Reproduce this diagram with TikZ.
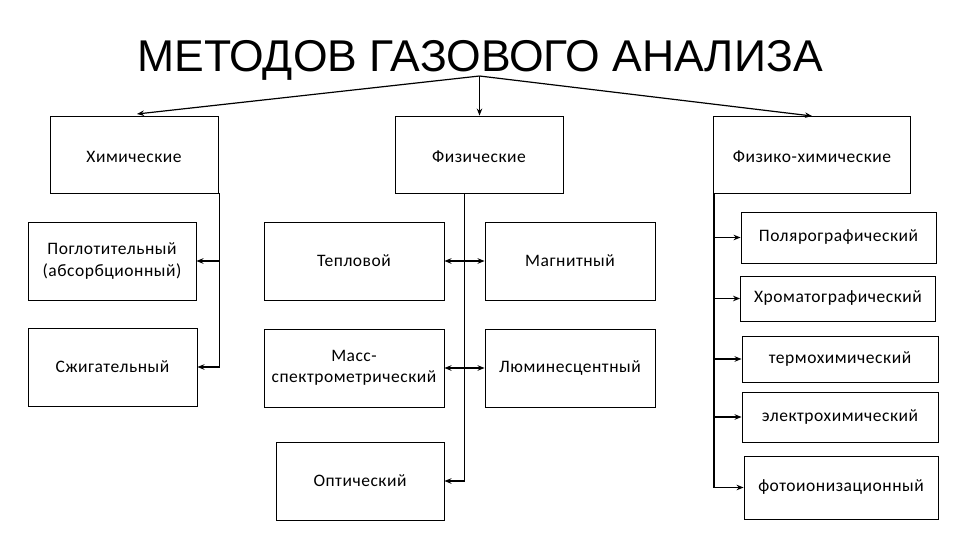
\documentclass[tikz,border=0pt]{standalone}
\usepackage{fontspec}
\setmainfont{Carlito}[LetterSpace=3]
\newfontfamily\titlefont{Liberation Sans}
\usetikzlibrary{arrows.meta}
\begin{document}
\begin{tikzpicture}[x=1pt,y=-1pt,
  box/.style={draw=black,line width=0.9pt,rectangle,inner sep=2pt,align=center,font=\fontsize{17.5}{21.5}\selectfont},
  lbl/.style={font=\fontsize{17.5}{21.5}\selectfont},
  conn/.style={line width=1.2pt},
  arr/.style={conn,-{Stealth[length=7pt,width=5.5pt]}},
  darr/.style={conn,{Stealth[length=7pt,width=5.5pt]}-{Stealth[length=7pt,width=5.5pt]}}]
\useasboundingbox (0,0) rectangle (960,540);
\fill[white] (0,0) rectangle (960,540);
% title
\node[font=\titlefont\fontsize{44.5}{50}\selectfont,inner sep=0pt] (title) at (480,60) {МЕТОДОВ ГАЗОВОГО АНАЛИЗА};
\coordinate (apex) at (479.5,76);
% level 1
\node[box,minimum width=168pt,minimum height=77pt] (chem) at (134,154.5) {};
\node[lbl] at (134,157) {Химические};
\node[box,minimum width=168pt,minimum height=77pt] (phys) at (479,154.5) {};
\node[lbl] at (479,157) {Физические};
\node[box,minimum width=197pt,minimum height=77pt] (pc) at (811.5,154.5) {};
\node[lbl] at (812,157) {Физико-химические};
% left column
\node[box,minimum width=168pt,minimum height=78pt] (absorb) at (112,261) {Поглотительный\\(абсорбционный)};
\node[box,minimum width=169pt,minimum height=78pt] (burn) at (112.5,367) {Сжигательный};
% middle
\node[box,minimum width=180pt,minimum height=78pt] (thermal) at (354,261) {Тепловой};
\node[box,minimum width=170pt,minimum height=78pt] (magnet) at (570,261) {Магнитный};
\node[box,minimum width=180pt,minimum height=78pt] (mass) at (354,368) {Масс-\\спектрометрический};
\node[box,minimum width=170pt,minimum height=78pt] (lumin) at (570,368) {Люминесцентный};
\node[box,minimum width=168pt,minimum height=78pt] (optic) at (360,481) {Оптический};
% right
\node[box,minimum width=195pt,minimum height=51pt] (polar) at (838.5,237.5) {Полярографический};
\node[box,minimum width=195pt,minimum height=45pt] (chrom) at (838,298.5) {Хроматографический};
\node[box,minimum width=196pt,minimum height=46pt] (termo) at (840,359) {термохимический};
\node[box,minimum width=196pt,minimum height=50pt] (electro) at (840,417) {электрохимический};
\node[box,minimum width=194pt,minimum height=63pt] (photo) at (841,487.5) {фотоионизационный};
% top arrows
\draw[arr] (apex) -- (137,114);
\draw[arr] (apex) -- (phys.north -| apex);
\draw[arr] (apex) -- (812,116);
% left connectors
\coordinate (lv) at (219.5,193);
\draw[arr] (lv) |- (burn.east);
\draw[arr] (lv |- absorb.east) -- (absorb.east);
% middle connectors
\coordinate (mv) at (464.5,193);
\draw[arr] (mv) |- (optic.east);
\draw[darr] (thermal.east) -- (magnet.west);
\draw[darr] (mass.east) -- (lumin.west);
% right connectors
\coordinate (rv) at (714,193);
\draw[arr] (rv) |- (photo.west);
\draw[arr] (rv |- polar.west) -- (polar.west);
\draw[arr] (rv |- chrom.west) -- (chrom.west);
\draw[arr] (rv |- termo.west) -- (termo.west);
\draw[arr] (rv |- electro.west) -- (electro.west);
\end{tikzpicture}
\end{document}
